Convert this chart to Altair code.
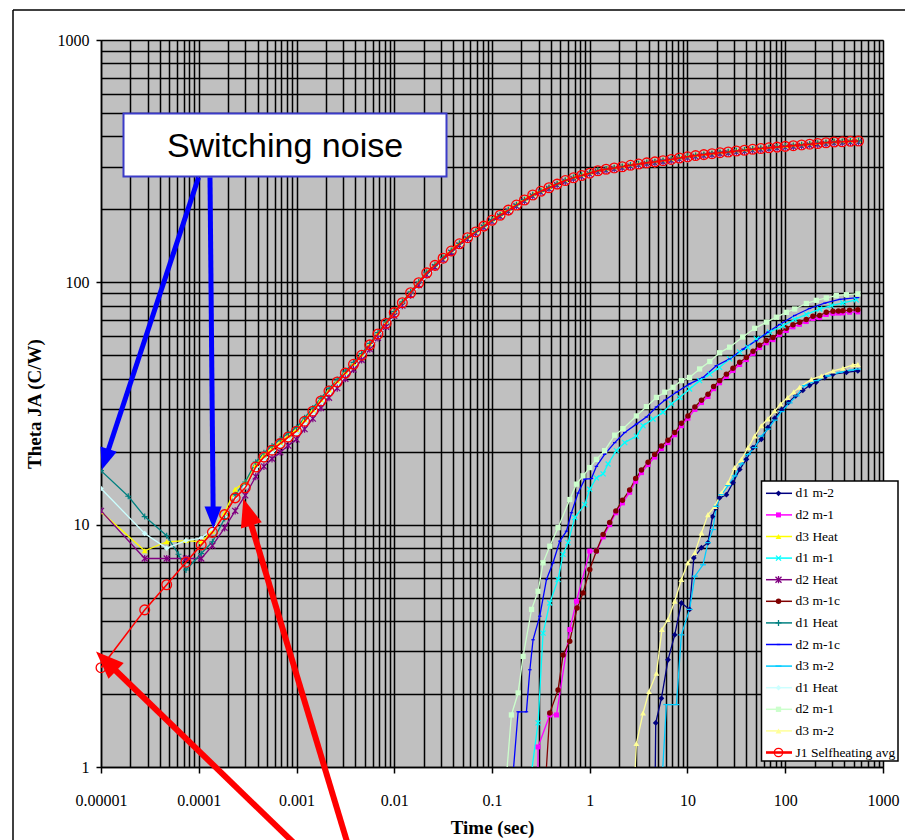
import math
import altair as alt
import pandas as pd

# ------------------------------------------------------------------ data
NAMES = ["d1 m-2", "d2 m-1", "d3 Heat", "d1 m-1", "d2 Heat", "d3 m-1c",
         "d1 Heat", "d2 m-1c", "d3 m-2", "d1 Heat", "d2 m-1", "d3 m-2",
         "J1 Selfheating avg"]
COLORS = ["#000080", "#FF00FF", "#FFFF00", "#00FFFF", "#800080", "#800000",
          "#008080", "#0000FF", "#00CCFF", "#CCFFFF", "#CCFFCC", "#FFFF99",
          "#FF0000"]

# sample times of the self-heating family (s)
MAIN_T_EARLY = [1e-5, 2.8e-5, 4.7e-5, 7.4e-5, 1.06e-4, 1.38e-4, 1.84e-4, 2.36e-4, 2.99e-4]
TEAL_T_EARLY = [1e-5, 1.9e-5, 2.8e-5, 4.7e-5, 6.2e-5, 7.4e-5, 1.06e-4, 1.38e-4, 1.84e-4, 2.36e-4, 2.99e-4]
MAIN_T = [3.83e-4, 4.64e-4, 5.62e-4, 6.81e-4, 8.25e-4,
          1.00e-3, 1.21e-3, 1.47e-3, 1.78e-3, 2.15e-3, 2.61e-3, 3.16e-3, 3.83e-3, 4.64e-3, 5.62e-3, 6.81e-3, 8.25e-3,
          0.0100, 0.0121, 0.0147, 0.0178, 0.0215, 0.0261, 0.0316, 0.0383, 0.0464, 0.0562, 0.0681, 0.0825,
          0.100, 0.121, 0.147, 0.178, 0.215, 0.261, 0.316, 0.383, 0.464, 0.562, 0.681, 0.825,
          1.00, 1.21, 1.47, 1.78, 2.15, 2.61, 3.16, 3.83, 4.64, 5.62, 6.81, 8.25,
          10.0, 12.1, 14.7, 17.8, 21.5, 26.1, 31.6, 38.3, 46.4, 56.2, 68.1, 82.5,
          100, 121, 147, 178, 215, 261, 316, 383, 464, 562]

J1_EARLY = [2.57, 4.45, 5.65, 7.0, 8.25, 9.3, 11.0, 12.9, 14.2]
J1_V = [17.3, 19.0, 20.3, 21.6, 23.0, 24.3,
        26.7, 29.4, 32.4, 35.6, 38.8, 42.2, 45.9, 50.0, 55.2, 61.2, 67.8, 75.0,
        82.4, 90.6, 99.6, 109.4, 117.5, 125.8, 134.6, 144.2, 152.8, 161.4, 170.6, 180.3,
        189.2, 198.6, 208.4, 218.6, 229.3, 237.4, 245.7, 254.3, 263.0, 269.9, 275.9, 282.2,
        288.5, 292.8, 296.5, 299.9, 304.0, 307.6, 311.2, 314.1, 317.7, 321.4, 325.8, 329.6,
        333.4, 336.5, 339.6, 342.8, 345.1, 348.3, 350.8, 354.0, 356.5, 358.9, 361.4, 363.9,
        366.4, 368.9, 371.5, 374.1, 376.7, 379.3, 380.2, 381.9, 382.8]

D3H_EARLY = [11.3, 7.8, 8.5, 8.6, 8.5, 9.4, 11.2, 14.0, 15.0]
D3H_V = [17.7, 19.4, 20.7, 21.9, 23.3, 24.7,
         27.1, 29.8, 32.8, 36.0, 39.2, 42.6, 46.3, 50.5, 55.7, 61.8, 68.4, 75.7,
         83.2, 91.5, 100.5, 110.4, 118.6, 127.0, 135.9, 145.6, 154.3, 163.0, 172.3, 182.1,
         191.1, 200.6, 210.5, 220.8, 231.6, 239.8, 248.2, 256.8, 265.6, 272.6, 278.7, 285.0,
         291.4, 295.7, 299.5, 302.9, 307.0, 310.7, 314.3, 317.2, 320.9, 324.6, 329.1, 332.9,
         336.7, 339.9, 343.0, 346.2, 348.6, 351.8, 354.3, 357.5, 360.1, 362.5, 365.0, 367.5,
         370.1, 372.6, 375.2, 377.8, 380.5, 383.1, 384.0, 385.7, 386.6]

D1H2_EARLY = [14.1, 9.2, 8.0, 8.6, 8.8, 9.6, 10.8, 12.9, 14.3]
D1H2_V = [16.8, 18.4, 19.7, 21.0, 22.3, 23.6,
          25.9, 28.5, 31.4, 34.5, 37.6, 40.9, 44.5, 48.5, 53.5, 59.4, 65.8, 72.8,
          79.9, 87.9, 96.6, 106.1, 114.0, 122.0, 130.6, 139.9, 148.2, 156.6, 165.5, 174.9,
          183.5, 192.6, 202.1, 212.0, 222.4, 230.3, 238.3, 246.7, 255.1, 261.8, 267.6, 273.7,
          279.8, 284.0, 287.6, 290.9, 294.9, 298.4, 301.9, 304.7, 308.2, 311.8, 316.0, 319.7,
          323.4, 326.4, 329.4, 332.5, 334.7, 337.9, 340.3, 343.4, 345.8, 348.1, 350.6, 353.0,
          355.4, 357.8, 360.4, 362.9, 365.4, 367.9, 368.8, 370.4, 371.3]

D2H_EARLY = [11.4, 7.25, 7.25, 7.25, 7.25, 8.2, 9.7, 11.4, 13.2]
D2H_V = [15.8, 17.4, 18.7, 19.9, 21.2, 22.5,
         24.8, 27.4, 30.3, 33.4, 36.6, 40.0, 43.7, 47.8, 53.0, 59.0, 65.6, 72.8,
         80.2, 88.5, 97.5, 107.3, 115.4, 123.7, 132.5, 142.1, 150.7, 159.2, 168.4, 178.0,
         186.9, 196.3, 206.0, 216.2, 226.9, 235.0, 243.2, 251.8, 260.4, 267.2, 273.2, 279.4,
         285.6, 289.9, 293.5, 296.9, 301.0, 304.5, 308.1, 311.0, 314.5, 318.2, 322.5, 326.3,
         330.1, 333.1, 336.2, 339.4, 341.6, 344.8, 347.3, 350.5, 352.9, 355.3, 357.8, 360.3,
         362.7, 365.2, 367.8, 370.4, 372.9, 375.5, 376.4, 378.1, 379.0]

D1H_EARLY = [16.7, 13.1, 10.8, 9.0, 7.55, 6.5, 7.6, 8.5, 10.6, 13.3, 15.0]
D1H_V = [18.1, 19.8, 21.1, 22.5, 23.9, 25.2,
         27.6, 30.3, 33.3, 36.5, 39.6, 43.0, 46.7, 50.8, 56.0, 62.0, 68.6, 75.7,
         83.1, 91.3, 100.3, 110.1, 118.2, 126.5, 135.3, 144.9, 153.5, 162.1, 171.3, 181.0,
         189.9, 199.3, 209.1, 219.3, 230.0, 238.1, 246.4, 255.0, 263.7, 270.6, 276.6, 282.9,
         289.2, 293.5, 297.2, 300.6, 304.7, 308.3, 311.9, 314.8, 318.4, 322.1, 326.5, 330.3,
         334.1, 337.2, 340.3, 343.5, 345.8, 349.0, 351.5, 354.7, 357.2, 359.6, 362.1, 364.6,
         367.1, 369.6, 372.2, 374.8, 377.4, 380.0, 380.9, 382.6, 383.5]

D1M2_T = [4.67, 4.73, 5.41, 6.32, 7.40, 8.66, 10.5, 11.6, 13.9, 16.2, 18.0, 19.4, 21.3, 25.0,
          29.2, 34.2, 40.0, 46.8, 56.9, 66.5, 78, 91.9, 108, 128, 151, 177, 208, 253, 308, 422, 553]
D1M2_V = [0.9, 1.52, 1.92, 2.77, 3.51, 4.75, 4.47, 7.29, 8.04, 8.43, 10.8, 11.7, 12.9, 13.3,
          14.9, 16.9, 18.6, 20.8, 22.5, 25.2, 27.5, 29.8, 32.0, 34.0, 35.8, 37.5, 38.8, 40.5, 41.8, 42.5, 43.1]

D2M1_T = [0.294, 0.296, 0.390, 0.457, 0.624, 0.731, 1.0, 1.17, 1.37, 1.60, 1.85, 2.16, 2.56, 2.95,
          3.38, 3.95, 4.62, 5.41, 6.32, 7.40, 8.66, 10.1, 11.9, 13.9, 16.2, 18.5, 21.3, 25.0, 29.2,
          34.2, 40.0, 46.8, 54.7, 64.1, 74.9, 87.7, 102.6, 120, 140, 164, 192, 225, 263, 308, 350, 389, 455, 553]
D2M1_V = [0.8, 1.21, 1.64, 1.64, 3.69, 4.83, 7.78, 7.78, 8.9, 10.0, 11.2, 12.3, 13.6, 15.1,
          16.4, 17.7, 19.0, 20.6, 21.8, 23.5, 25.6, 27.5, 29.9, 31.9, 33.8, 36.4, 38.5, 40.9, 43.3,
          45.8, 48.0, 50.9, 53.8, 56.3, 58.0, 61.0, 63.3, 65.5, 67.1, 68.9, 70.9, 71.5, 73.7, 74.5, 74.7, 74.8, 75.3, 75.5]

D1M1_T = [0.249, 0.296, 0.333, 0.390, 0.474, 0.533, 0.600, 0.703, 0.889, 1.0, 1.17, 1.37, 1.54,
          1.87, 2.28, 3.00, 3.51, 4.44, 5.61, 6.84, 8.32, 10.5, 13.3, 16.9, 21.3, 27.0, 34.2, 41.3,
          50.6, 69.2, 94.8, 124.8, 164.3, 225, 296, 389, 533]
D1M1_V = [0.9, 1.52, 3.57, 4.75, 5.94, 7.54, 8.43, 10.7, 12.1, 14.0, 15.6, 16.2, 17.8,
          20.2, 21.8, 23.2, 25.6, 27.3, 29.1, 31.5, 33.5, 36.3, 39.3, 41.8, 44.6, 48.3, 51.5, 54.0,
          58.4, 62.3, 66.2, 70.3, 73.8, 77.6, 80.1, 82.2, 84.6]

D3M1C_T = [0.355, 0.390, 0.474, 0.533, 0.624, 0.741, 0.854, 1.0, 1.17, 1.37, 1.60, 1.85, 2.16,
           2.56, 2.95, 3.38, 3.95, 4.62, 5.41, 6.32, 7.40, 8.66, 10.1, 11.9, 13.9, 16.2, 18.5, 21.3,
           25.0, 29.2, 34.2, 40.0, 46.8, 54.7, 64.1, 74.9, 87.7, 102.6, 120, 140, 164, 192, 225, 263,
           308, 350, 389, 455, 553]
D3M1C_V = [0.9, 1.67, 2.08, 2.90, 3.30, 4.53, 5.23, 6.53, 7.78, 9.10, 10.2, 11.4, 12.6,
           13.9, 15.5, 16.8, 18.1, 19.5, 21.1, 22.3, 24.0, 26.2, 28.1, 30.6, 32.6, 34.5, 37.2, 39.3,
           41.8, 44.2, 46.8, 49.0, 52.0, 55.0, 57.5, 59.2, 62.3, 64.6, 66.9, 68.5, 70.3, 72.4, 73.0, 75.2,
           76.0, 76.2, 76.3, 76.8, 77.0]

D2M1C_T = [0.163, 0.185, 0.225, 0.244, 0.263, 0.308, 0.361, 0.421, 0.494, 0.578, 0.650, 0.759,
           0.889, 1.04, 1.17, 1.42, 1.80, 2.28, 3.00, 3.80, 4.81, 5.85, 7.70, 10.5, 14.4, 19.7, 27.0,
           37.0, 50.6, 66.5, 87.6, 124.8, 177, 253, 360, 550]
D2M1C_V = [0.9, 1.69, 1.69, 2.52, 3.35, 4.19, 5.94, 6.96, 8.55, 9.4, 11.2, 13.5,
           15.4, 15.5, 17.4, 19.5, 21.8, 24.0, 26.0, 27.8, 30.6, 32.6, 35.2, 38.1, 40.5, 45.3, 48.3,
           53.0, 57.5, 62.3, 67.0, 73.0, 78.0, 82.0, 85.0, 86.5]

D3M2_T = [5.51, 6.08, 7.70, 8.66, 10.5, 11.9, 14.4, 16.2, 18.2, 19.7, 22.2, 26.0, 30.4, 35.6,
          41.6, 48.7, 56.9, 66.5, 78, 91.9, 111, 131, 158, 208, 274, 360, 474, 553]
D3M2_V = [0.9, 1.81, 1.81, 3.51, 4.47, 6.13, 6.83, 8.43, 9.55, 11.9, 13.3, 14.5, 15.9, 17.8,
          19.5, 20.8, 23.2, 24.8, 27.0, 29.3, 31.8, 34.0, 37.5, 39.3, 41.1, 42.5, 43.4, 43.8]

D2M1B_T = [0.140, 0.158, 0.185, 0.208, 0.254, 0.296, 0.333, 0.390, 0.474, 0.624, 0.731, 0.854,
           1.0, 1.17, 1.42, 1.80, 2.19, 3.00, 3.80, 4.81, 5.85, 7.11, 8.67, 10.5, 13.3, 16.9, 21.3,
           27.0, 36.7, 48.7, 64.1, 81.2, 102.6, 124.8, 164.3, 208, 263, 333, 422, 554]
D2M1B_V = [0.9, 1.64, 2.02, 2.86, 4.47, 5.31, 6.96, 8.15, 9.72, 12.7, 14.7, 15.9,
           17.2, 18.6, 20.2, 23.4, 24.9, 28.1, 30.7, 33.5, 35.2, 36.9, 39.3, 40.5, 43.9, 47.1, 51.2,
           54.0, 59.5, 64.6, 68.5, 71.8, 75.2, 77.6, 81.8, 84.3, 86.2, 88.2, 88.9, 89.6]

D3M2B_T = [2.88, 3.00, 3.51, 4.04, 4.81, 5.48, 6.32, 7.40, 8.66, 10.1, 11.9, 13.9, 16.2, 19.0,
           22.2, 26.0, 30.4, 35.6, 41.6, 48.7, 56.9, 66.5, 78, 89.8, 106, 122, 140, 185, 234, 308,
           389, 492, 553]
D3M2B_V = [0.9, 1.25, 1.67, 2.05, 2.44, 3.69, 4.06, 4.83, 5.94, 6.96, 7.66, 9.25, 11.0, 11.9,
           13.5, 14.9, 17.2, 18.6, 20.8, 23.2, 25.6, 27.3, 29.5, 31.5, 33.5, 35.3, 36.9, 39.8, 41.1, 43.1,
           44.2, 45.6, 45.8]

SERIES = [
    (D1M2_T, D1M2_V),
    (D2M1_T, D2M1_V),
    (MAIN_T_EARLY + MAIN_T, D3H_EARLY + D3H_V),
    (D1M1_T, D1M1_V),
    (MAIN_T_EARLY + MAIN_T, D2H_EARLY + D2H_V),
    (D3M1C_T, D3M1C_V),
    (TEAL_T_EARLY + MAIN_T, D1H_EARLY + D1H_V),
    (D2M1C_T, D2M1C_V),
    (D3M2_T, D3M2_V),
    (MAIN_T_EARLY + MAIN_T, D1H2_EARLY + D1H2_V),
    (D2M1B_T, D2M1B_V),
    (D3M2B_T, D3M2B_V),
    (MAIN_T_EARLY + MAIN_T, J1_EARLY + J1_V),
]

X_TICK_LABELS = ["0.00001", "0.0001", "0.001", "0.01", "0.1", "1", "10", "100", "1000"]
Y_TICK_LABELS = ["1", "10", "100", "1000"]

# ------------------------------------------------------------------ styles
X_PATH = "M-1,-1L1,1M-1,1L1,-1"
STAR_PATH = "M-1,-1L1,1M-1,1L1,-1M0,-1.2L0,1.2"
PLUS_PATH = "M-1,0L1,0M0,-1L0,1"
DASH_PATH = "M-1,0L1,0"
ARROW_PATH = "M0,-1L0.78,1L-0.78,1Z"

SHAPES = ["diamond", "square", "triangle-up", X_PATH, STAR_PATH, "circle", PLUS_PATH,
          DASH_PATH, DASH_PATH, "diamond", "square", "triangle-up", "circle"]
FILLED = [True, True, True, False, False, True, False, False, False, True, True, True, False]
SIZES = [34, 25, 34, 25, 36, 30, 36, 12, 36, 30, 28, 34, 95]

rows = []
for i, (ts, vs) in enumerate(SERIES):
    assert len(ts) == len(vs), (i, len(ts), len(vs))
    for t, v in zip(ts, vs):
        rows.append({"sid": f"s{i:02d}", "t": t, "v": v, "col": COLORS[i],
                     "shape": SHAPES[i], "size": SIZES[i], "filled": FILLED[i]})
df = pd.DataFrame(rows)

SERIF = "Liberation Serif"
MAJOR = "abs(log(datum.value)/LN10 - round(log(datum.value)/LN10)) < 0.01"

X_TICKS = [m * 10.0 ** e for e in range(-5, 3) for m in range(1, 10)] + [1000.0]
Y_TICKS = [m * 10.0 ** e for e in range(0, 3) for m in range(1, 10)] + [1000.0]


def label_expr(labels):
    parts = " : ".join(
        f"abs(datum.value - {float(l)}) < {float(l) * 1e-3} ? '{l}'" for l in labels)
    return parts + " : ''"


def make_axis(title, labels, **kw):
    return alt.Axis(
        title=title, labelExpr=label_expr(labels),
        labelFont=SERIF, labelColor="black", labelOverlap=False, labelFlush=False,
        tickColor="black", tickWidth=1.5,
        tickOpacity={"condition": {"test": MAJOR, "value": 1}, "value": 0},
        grid=True, gridColor="black", gridWidth=1.5, gridOpacity=1,
        domainColor="black", domainWidth=1.5,
        titleFont=SERIF, titleFontWeight="bold", titleColor="black", **kw)


XAX = make_axis("Time (sec)", X_TICK_LABELS, values=X_TICKS, labelFontSize=16,
                labelPadding=19, tickSize=6, titleFontSize=19, titlePadding=10)
YAX = make_axis("Theta JA (C/W)", Y_TICK_LABELS, values=Y_TICKS, labelFontSize=16,
                labelPadding=7, tickSize=5, titleFontSize=19, titlePadding=13)

X = alt.X("t:Q", scale=alt.Scale(type="log", domain=[1e-5, 1000], nice=False), axis=XAX)
Y = alt.Y("v:Q", scale=alt.Scale(type="log", domain=[1, 1000], nice=False), axis=YAX)
COL = alt.Color("col:N", scale=None)

base = alt.Chart(df)
others = base.transform_filter("datum.sid != 's12'")
lines_other = others.mark_line(strokeWidth=1.3, clip=True).encode(x=X, y=Y, color=COL, detail="sid:N")
pts_filled = others.transform_filter("datum.filled").mark_point(
    filled=True, opacity=1, clip=True).encode(
    x=X, y=Y, color=COL, shape=alt.Shape("shape:N", scale=None), size=alt.Size("size:Q", scale=None))
pts_stroked = others.transform_filter("!datum.filled").mark_point(
    filled=False, opacity=1, strokeWidth=1.2, clip=True).encode(
    x=X, y=Y, color=COL, shape=alt.Shape("shape:N", scale=None), size=alt.Size("size:Q", scale=None))
red = base.transform_filter("datum.sid == 's12'")
red_line = red.mark_line(strokeWidth=1.6, color="#FF0000", clip=True).encode(x=X, y=Y)
red_pts = red.mark_point(shape="circle", filled=False, opacity=1, strokeWidth=1.3, size=95,
                         color="#FF0000", clip=False).encode(x=X, y=Y)

# ------------------------------------------------------------------ layout (pixels)
OX, OY = 101, 40          # plot-area origin in the page
PW, PH = 782, 727         # plot-area size
one = pd.DataFrame({"k": [0]})

frame = alt.layer(
    alt.Chart(one).mark_rule(color="black", strokeWidth=1.5).encode(
        x=alt.value(13 - OX), y=alt.value(10 - OY), y2=alt.value(850 - OY)),
    alt.Chart(one).mark_rule(color="black", strokeWidth=1.5).encode(
        x=alt.value(13 - OX), x2=alt.value(910 - OX), y=alt.value(10 - OY)),
)

# annotation box
box = alt.Chart(one).mark_rect(fill="white", stroke="#3B3BC8", strokeWidth=2).encode(
    x=alt.value(123.5 - OX), x2=alt.value(446.5 - OX), y=alt.value(113.5 - OY), y2=alt.value(176.5 - OY))
box_text = alt.Chart(one).mark_text(text="Switching noise", font="Liberation Sans", fontSize=34,
                                    align="center", baseline="alphabetic", color="black").encode(
    x=alt.value(285 - OX), y=alt.value(156.5 - OY))

ARROWS = [  # start (x, y), tip (x, y), colour, line width, head length
    ((198.5, 177.5), (101.7, 470.0), "#0000FF", 5, 22),
    ((210.0, 177.5), (213.3, 528.5), "#0000FF", 5, 22),
    ((296.0, 845.0), (96.0, 651.5), "#FF0000", 6, 28),
    ((348.0, 845.0), (243.3, 498.5), "#FF0000", 6, 28),
]
arrow_rows, head_rows = [], []
for (sx, sy), (tx, ty), c, w, L in ARROWS:
    dx, dy = tx - sx, ty - sy
    n = math.hypot(dx, dy)
    ux, uy = dx / n, dy / n
    cx, cy = tx - ux * L / 2, ty - uy * L / 2
    arrow_rows.append({"x": sx - OX, "y": sy - OY, "x2": cx - OX, "y2": cy - OY, "c": c, "w": w})
    head_rows.append({"x": cx - OX, "y": cy - OY, "c": c, "s": L * L,
                      "a": math.degrees(math.atan2(dx, -dy)) % 360})
arrow_df = pd.DataFrame(arrow_rows)
head_df = pd.DataFrame(head_rows)
arrow_lines = alt.Chart(arrow_df).mark_rule(strokeCap="butt").encode(
    x=alt.X("x:Q", scale=None), y=alt.Y("y:Q", scale=None),
    x2="x2:Q", y2="y2:Q",
    color=alt.Color("c:N", scale=None), strokeWidth=alt.StrokeWidth("w:Q", scale=None))
arrow_heads = alt.Chart(head_df).mark_point(shape=ARROW_PATH, filled=True, opacity=1).encode(
    x=alt.X("x:Q", scale=None), y=alt.Y("y:Q", scale=None),
    color=alt.Color("c:N", scale=None), size=alt.Size("s:Q", scale=None),
    angle=alt.Angle("a:Q", scale=None))

# legend
LEG_Y0, LEG_DY = 493.3, 21.6
leg_df = pd.DataFrame({
    "label": NAMES, "col": COLORS, "shape": SHAPES, "filled": FILLED,
    "size": [s if i != 12 else 70 for i, s in enumerate(SIZES)],
    "lw": [1.5] * 12 + [2.6],
    "py": [LEG_Y0 + i * LEG_DY - OY for i in range(len(NAMES))],
})
leg_box = alt.Chart(one).mark_rect(fill="white", stroke="black", strokeWidth=1.5).encode(
    x=alt.value(761.5 - OX), x2=alt.value(898 - OX), y=alt.value(481 - OY), y2=alt.value(761 - OY))
LY = alt.Y("py:Q", scale=None)
leg_lines = alt.Chart(leg_df).mark_rule().encode(
    x=alt.value(766 - OX), x2=alt.value(792 - OX), y=LY,
    color=alt.Color("col:N", scale=None), strokeWidth=alt.StrokeWidth("lw:Q", scale=None))
leg_pf = alt.Chart(leg_df).transform_filter("datum.filled").mark_point(filled=True, opacity=1).encode(
    x=alt.value(778.5 - OX), y=LY, color=alt.Color("col:N", scale=None),
    shape=alt.Shape("shape:N", scale=None), size=alt.Size("size:Q", scale=None))
leg_ps = alt.Chart(leg_df).transform_filter("!datum.filled").mark_point(
    filled=False, opacity=1, strokeWidth=1.3).encode(
    x=alt.value(778.5 - OX), y=LY, color=alt.Color("col:N", scale=None),
    shape=alt.Shape("shape:N", scale=None), size=alt.Size("size:Q", scale=None))
leg_text = alt.Chart(leg_df).mark_text(align="left", baseline="middle", font=SERIF,
                                       fontSize=13.5, color="black").encode(
    x=alt.value(795.5 - OX), y=LY, text="label:N")

chart = alt.layer(
    lines_other, pts_filled, pts_stroked, red_line, red_pts,
    frame, box, box_text, arrow_lines, arrow_heads,
    leg_box, leg_lines, leg_pf, leg_ps, leg_text,
).properties(
    width=PW, height=PH,
    padding={"left": OX, "top": OY, "right": 905 - OX - PW, "bottom": 840 - OY - PH},
    autosize=alt.AutoSizeParams(type="none"),
    background="white",
).configure_view(fill="#C0C0C0", stroke="#808080", strokeWidth=1)

chart.save("out.html", embed_options={"renderer": "svg", "actions": False})
